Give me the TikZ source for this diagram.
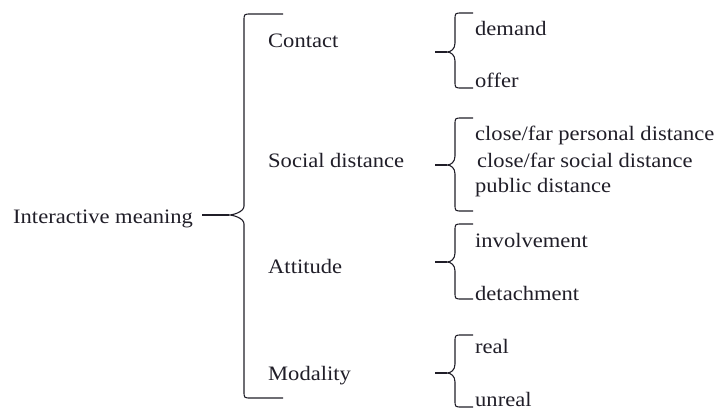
\documentclass[tikz,border=0pt]{standalone}
\usepackage{fontspec}
\setmainfont{Liberation Serif}[FakeStretch=1.1]
\definecolor{ink}{RGB}{32,30,40}
\tikzset{
  lbl/.style={anchor=base west, inner sep=0pt, text=ink, font=\fontsize{20.5}{24}\selectfont},
  brace/.style={draw=ink, line width=1.1pt, line join=round}
}
% #1 name, #2 x of bar, #3 top, #4 middle, #5 bottom, #6 end of hooks, #7 tip, #8 stub start
\newcommand{\curly}[8]{%
  \draw[brace] (#6,#3) -- ({#2+7},#3) .. controls (#2,#3) .. (#2,{#3+7})
    -- (#2,{#4-9})
    .. controls (#2,{#4-3}) and ({#7+4},#4) .. (#7,#4)
    .. controls ({#7+4},#4) and (#2,{#4+3}) .. (#2,{#4+9})
    -- (#2,{#5-7}) .. controls (#2,#5) .. ({#2+7},#5) -- (#6,#5);
  \coordinate (#1-tip) at (#7,#4);
  \coordinate (#1-stub) at (#8,#4);
  \draw[brace] (#1-stub) -- (#1-tip);
}
\begin{document}
\begin{tikzpicture}[x=1pt, y=-1pt]
	\useasboundingbox (0,0) rectangle (723,410);
	% root
	\node[lbl] (im) at (13,223) {Interactive meaning};
	\curly{root}{244}{14}{215}{398}{283}{229}{202}
	% second level
	\node[lbl] (contact) at (268,47) {Contact};
	\node[lbl] (social) at (268,167) {Social distance};
	\node[lbl] (attitude) at (268,273) {Attitude};
	\node[lbl] (modality) at (268,380) {Modality};
	% third level
	\curly{cb}{455}{13}{52}{88}{473}{447}{435}
	\node[lbl] (demand) at (475,35) {demand};
	\node[lbl] (offer) at (475,87) {offer};
	\curly{sb}{455}{118}{165}{211}{473}{447}{435}
	\node[lbl] (personal) at (475,140) {close/far personal distance};
	\node[lbl] (socdist) at (477,167) {close/far social distance};
	\node[lbl] (public) at (475,192) {public distance};
	\curly{ab}{455}{224}{262}{299}{473}{447}{435}
	\node[lbl] (involve) at (475,247) {involvement};
	\node[lbl] (detach) at (475,300) {detachment};
	\curly{mb}{455}{335}{373}{407}{473}{447}{435}
	\node[lbl] (real) at (475,353) {real};
	\node[lbl] (unreal) at (475,406) {unreal};
\end{tikzpicture}
\end{document}
